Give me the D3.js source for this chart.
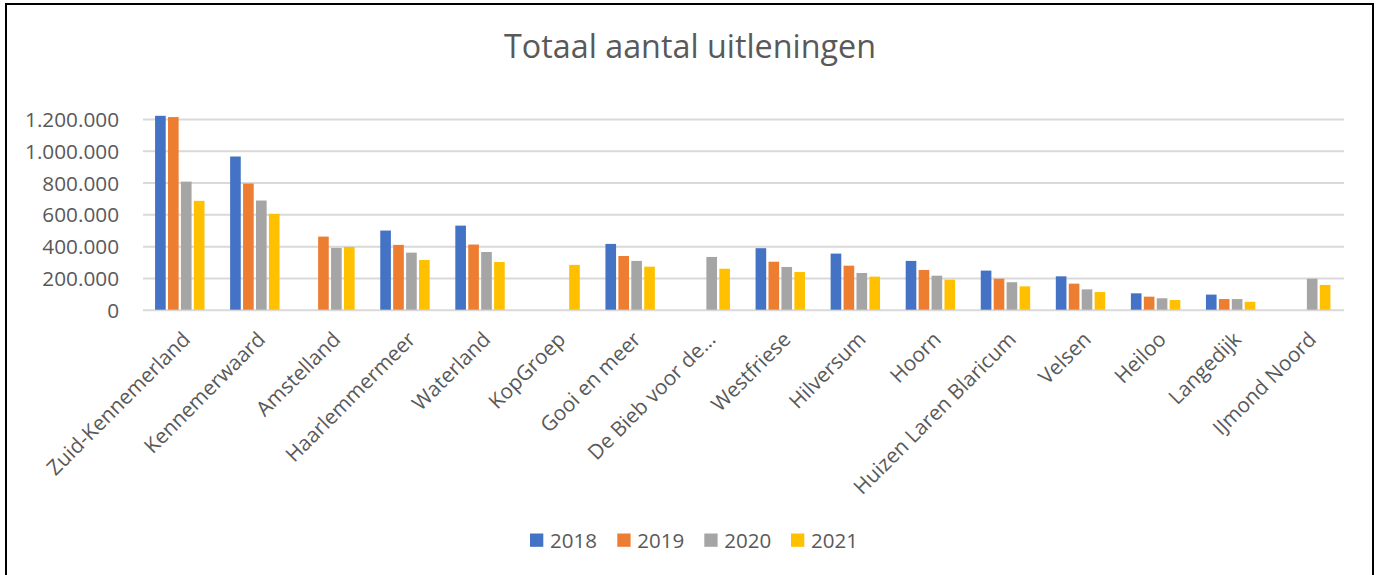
<!DOCTYPE html>
<html>
<head>
<meta charset="utf-8">
<script src="https://cdn.jsdelivr.net/npm/d3@7"></script>
<style>
  html, body { margin: 0; padding: 0; background: #fff; }
  svg { display: block; font-family: "Open Sans", "Noto Sans", sans-serif; }
</style>
</head>
<body>
<svg id="chart" width="1378" height="575"></svg>
<script>
const title = "Totaal aantal uitleningen";
const categories = ["Zuid-Kennemerland", "Kennemerwaard", "Amstelland", "Haarlemmermeer", "Waterland",
  "KopGroep", "Gooi en meer", "De Bieb voor de...", "Westfriese", "Hilversum", "Hoorn",
  "Huizen Laren Blaricum", "Velsen", "Heiloo", "Langedijk", "IJmond Noord"];
const seriesNames = ["2018", "2019", "2020", "2021"];
const v2018 = [1220000, 964000, null, 498000, 529000, null, 414000, null, 387000, 353000, 307000, 246000, 210000, 103000, 95000, null];
const v2019 = [1212000, 794000, 460000, 408000, 410000, null, 338000, null, 302000, 277000, 250000, 195000, 164000, 82000, 67000, null];
const v2020 = [806000, 687000, 389000, 359000, 363000, null, 307000, 332000, 269000, 231000, 214000, 173000, 128000, 72000, 67000, 195000];
const v2021 = [685000, 603000, 395000, 313000, 300000, 282000, 271000, 258000, 237000, 208000, 189000, 147000, 111000, 61000, 50000, 156000];
const yTicks = [0, 200000, 400000, 600000, 800000, 1000000, 1200000];
const colors = ["#4472C4", "#ED7D31", "#A5A5A5", "#FFC000"];

const seriesValues = [v2018, v2019, v2020, v2021];
const textColor = "#595959";
const gridColor = "#D9D9D9";

const svg = d3.select("#chart");

// measure helper to fit font sizes to the reference text widths
function fitSize(str, targetWidth) {
  const t = svg.append("text").attr("font-size", 100).text(str);
  const w = t.node().getComputedTextLength();
  t.remove();
  return 100 * targetWidth / w;
}
const axisFont = fitSize("1.200.000", 94);
const titleFont = fitSize(title, 372);
const legendFont = fitSize("2018", 47);

// chart border
svg.append("rect")
  .attr("x", 6).attr("y", 4).attr("width", 1367).attr("height", 600)
  .attr("fill", "none").attr("stroke", "#000").attr("stroke-width", 2);

// title
svg.append("text")
  .attr("x", 690).attr("y", 57.5)
  .attr("text-anchor", "middle")
  .attr("font-size", titleFont)
  .attr("fill", textColor)
  .text(title);

const plotLeft = 143, plotRight = 1344, plotTop = 119, plotBottom = 309.7;

const x = d3.scaleBand().domain(categories).range([plotLeft, plotRight]).paddingInner(0.311).paddingOuter(0.1555);
const xs = d3.scaleBand().domain(seriesNames).range([0, x.bandwidth()]).padding(0);
const y = d3.scaleLinear().domain([0, 1200000]).range([plotBottom, plotTop]);

const nl = d3.formatLocale({decimal: ",", thousands: ".", grouping: [3], currency: ["€", ""]});
const fmt = nl.format(",");

// y axis with gridlines
const yAxis = svg.append("g")
  .attr("transform", `translate(${plotLeft},0)`)
  .call(d3.axisLeft(y).tickValues(yTicks).tickFormat(fmt).tickSize(-(plotRight - plotLeft)).tickPadding(24));
yAxis.select(".domain").remove();
yAxis.selectAll(".tick line").attr("stroke", gridColor).attr("stroke-width", 2);
yAxis.selectAll(".tick text")
  .attr("font-size", axisFont)
  .attr("fill", textColor)
  .attr("font-family", "Open Sans, Noto Sans, sans-serif")
  .attr("dy", "0.36em");

// bars
const groups = svg.append("g").selectAll("g")
  .data(categories)
  .join("g")
  .attr("transform", d => `translate(${x(d)},0)`);

groups.selectAll("rect")
  .data((d, i) => seriesNames.map((s, k) => ({s, k, v: seriesValues[k][i]})).filter(o => o.v != null))
  .join("rect")
  .attr("x", o => xs(o.s) + 0.4)
  .attr("width", xs.bandwidth() - 2.3)
  .attr("y", o => y(o.v))
  .attr("height", o => y(0) - y(o.v))
  .attr("fill", o => colors[o.k]);

// x axis (labels only)
const xAxis = svg.append("g")
  .attr("transform", `translate(0,${plotBottom})`)
  .call(d3.axisBottom(x).tickSize(0));
xAxis.select(".domain").remove();
xAxis.selectAll(".tick text")
  .attr("font-size", axisFont)
  .attr("fill", textColor)
  .attr("font-family", "Open Sans, Noto Sans, sans-serif")
  .attr("text-anchor", "end")
  .attr("x", 0).attr("y", 0).attr("dy", 0)
  .attr("transform", "translate(11,31) rotate(-45)");

// legend
const legendX = [530, 617.3, 704.3, 791];
const legend = svg.append("g");
seriesNames.forEach((s, k) => {
  legend.append("rect")
    .attr("x", legendX[k]).attr("y", 533.5)
    .attr("width", 13.3).attr("height", 13.3)
    .attr("fill", colors[k]);
  legend.append("text")
    .attr("x", legendX[k] + 20).attr("y", 540.2)
    .attr("dy", "0.36em")
    .attr("font-size", legendFont)
    .attr("fill", textColor)
    .text(s);
});
</script>
</body>
</html>
